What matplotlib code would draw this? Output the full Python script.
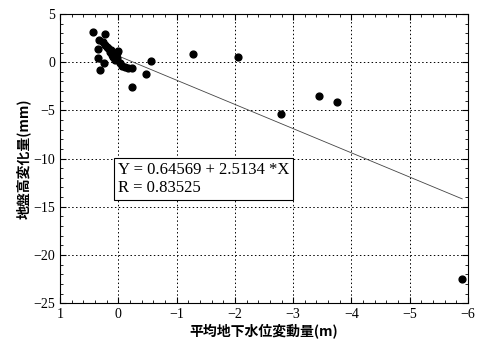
import matplotlib
matplotlib.use("Agg")
import matplotlib.pyplot as plt
import numpy as np
from matplotlib.ticker import MultipleLocator

plt.rcParams['font.family'] = ['Liberation Serif', 'Noto Sans CJK JP']

# data
x_vals = [0.43, 0.23, 0.33, 0.35, 0.34, 0.31, 0.25, 0.26, 0.22, 0.20, 0.17, 0.14,
          0.11, 0.09, 0.0, 0.05, 0.02, -0.03, -0.07, -0.11, -0.17, -0.23, 0.03,
          0.12, 0.07, -0.23, -0.47, -0.56, -1.29, -2.05, -2.79, -3.45, -3.75, -5.89]
y_vals = [3.1, 2.9, 2.3, 1.4, 0.45, -0.8, -0.1, 2.1, 1.8, 1.6, 1.45, 1.1,
          0.75, 0.57, 1.2, 0.2, 0.4, -0.1, -0.37, -0.55, -0.65, -0.65, 1.0,
          1.3, 0.9, -2.6, -1.2, 0.1, 0.8, 0.57, -5.4, -3.5, -4.1, -22.45]
intercept = 0.64569
slope = 2.5134
r_value = 0.83525
fit_range = [0.0, -5.9]

x_ticks = [1, 0, -1, -2, -3, -4, -5, -6]
y_ticks = [5, 0, -5, -10, -15, -20, -25]

fig = plt.figure(figsize=(4.82, 3.41), dpi=100)
ax = fig.add_axes([0.1245, 0.111, 0.8465, 0.848])

ax.scatter(x_vals, y_vals, s=24, color='black', zorder=3)
fx = np.linspace(fit_range[0], fit_range[1], 50)
ax.plot(fx, intercept + slope * fx, color='#444444', lw=0.6, zorder=2)

ax.set_xlim(1, -6)
ax.set_ylim(-25, 5)
ax.set_xticks(x_ticks)
ax.set_yticks(y_ticks)
ax.xaxis.set_minor_locator(MultipleLocator(0.2))
ax.yaxis.set_minor_locator(MultipleLocator(1))
ax.tick_params(which='both', direction='in', top=True, right=True, labelsize=10)
ax.tick_params(which='major', length=4)
ax.tick_params(which='minor', length=2)
ax.grid(True, which='major', linestyle=(0, (1.5, 2.5)), color='black', lw=0.7)
for sp in ax.spines.values():
    sp.set_linewidth(0.8)

ax.set_xlabel('平均地下水位変動量(m)', family=['Noto Sans CJK JP'],
              fontweight='bold', fontsize=10, labelpad=2)
ax.set_ylabel('地盤高変化量(mm)', family=['Noto Sans CJK JP'],
              fontweight='bold', fontsize=10, labelpad=2)

ax.text(0.142, 0.487, f'Y = {intercept} + {slope} *X\nR = {r_value}',
        transform=ax.transAxes, va='top', ha='left', fontsize=12,
        linespacing=1.1,
        bbox=dict(boxstyle='square,pad=0.25', facecolor='white',
                  edgecolor='black', lw=0.8), zorder=4)

fig.savefig('out.png', dpi=100)
